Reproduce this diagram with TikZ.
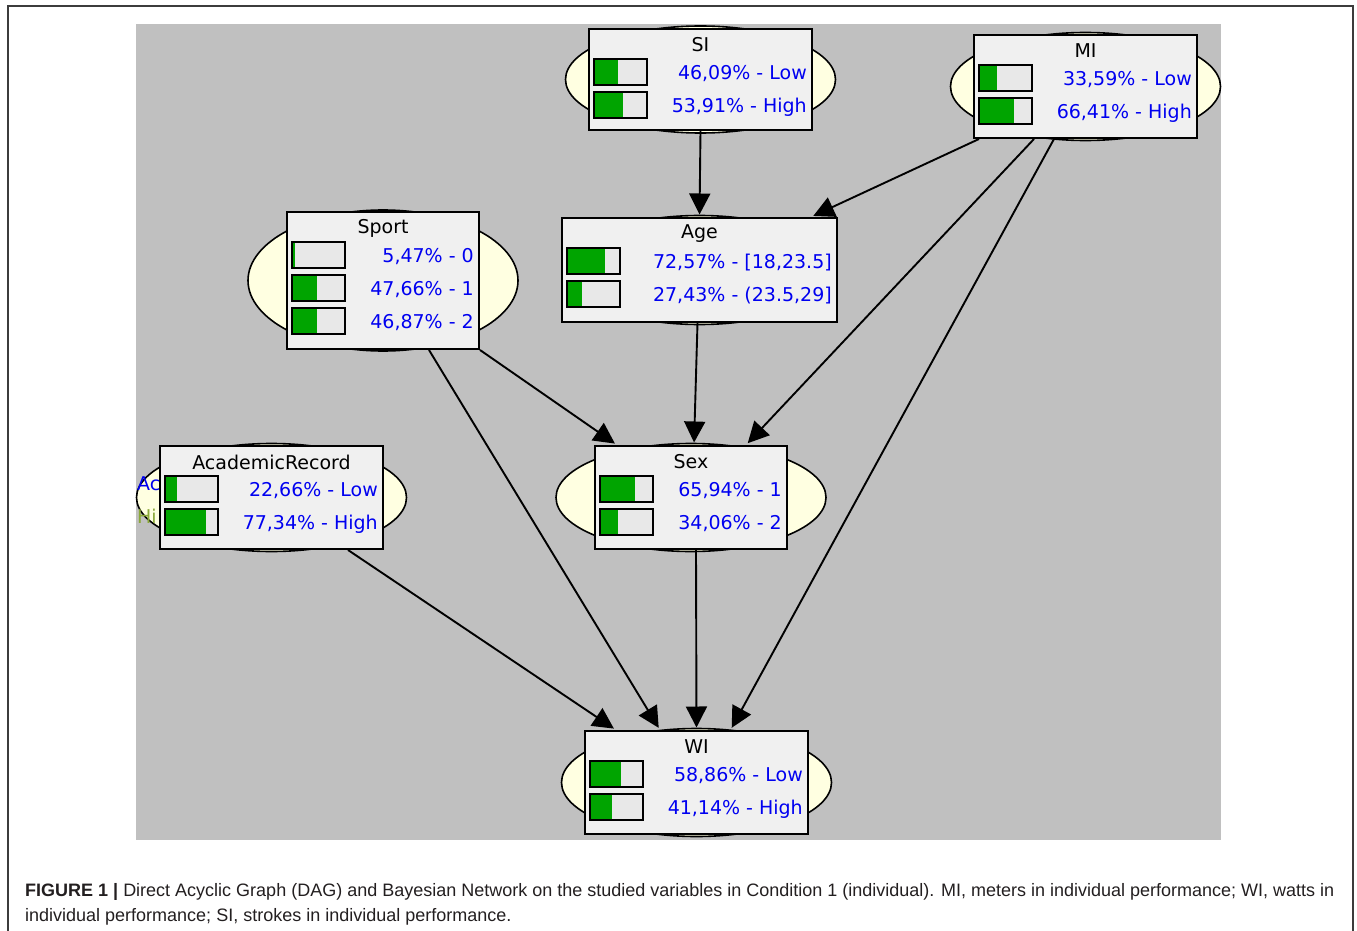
\documentclass[tikz,border=0pt]{standalone}
\usepackage{fontspec}
\setmainfont{DejaVu Sans}
\newfontfamily\capfont{Liberation Sans}
\usepackage{tikz}
\usetikzlibrary{positioning,calc,arrows.meta,shapes.geometric}
\definecolor{panelgray}{HTML}{C0C0C0}
\definecolor{boxgray}{HTML}{F0F0F0}
\definecolor{haloyellow}{HTML}{FFFFE1}
\definecolor{bargreen}{HTML}{00A400}
\definecolor{barempty}{HTML}{E8E8E8}
\definecolor{stateblue}{HTML}{0000F0}
\definecolor{stalegreen}{HTML}{8AA838}
\definecolor{framegray}{HTML}{3C3C3C}
\definecolor{captiongray}{HTML}{231F20}

% one state of a node: probability bar plus its label
\newcommand{\staterow}[4]{%
  \coordinate (#1-#2) at ($(#1.north west)+(6,{11+33*#2})$);
  \fill[barempty] ($(#1-#2)+(0,-13)$) rectangle ++(53,26);
  \fill[bargreen] ($(#1-#2)+(0,-13)$) rectangle ++({0.53*#3},26);
  \draw[line width=2pt] ($(#1-#2)+(0,-13)$) rectangle ++(53,26);
  \node[stateval] (#1-#2-val) at ($(#1.north east)+(-6,{13+33*#2})$) {#4};
}

\begin{document}
\begin{tikzpicture}[x=1pt,y=-1pt,
  halo/.style={ellipse, draw=black, line width=1.6pt, fill=haloyellow,
    minimum width=270, minimum height=#1, inner sep=0},
  cpt/.style={draw=black, line width=2pt, fill=boxgray, inner sep=0},
  title/.style={font=\fontsize{19}{20}\selectfont, text=black, inner sep=0},
  stateval/.style={anchor=east, font=\fontsize{19}{20}\selectfont,
    text=stateblue, inner sep=0},
  link/.style={line width=1.9pt, -{Triangle[length=21pt,width=21pt]},
    shorten >=2.5pt},
  caption/.style={font=\capfont\fontsize{18}{24}\selectfont, text=captiongray,
    inner sep=0, anchor=base west}]
  \useasboundingbox (0,0) rectangle (1357,931);
  \draw[framegray, line width=1.5pt] (8,931) -- (8,6) -- (1353,6) -- (1353,931);
  \fill[panelgray] (136,24) rectangle (1221,840);

  % SI
  \node[halo=107] (SIhalo) at (700.5,79.5) {};
  \node[cpt, minimum width=223, minimum height=101] (SI) at (SIhalo) {};
  \node[title] (SI-name) at ($(SI.north)+(0,17)$) {SI};
  \staterow{SI}{1}{46.09}{46,09\% - Low}
  \staterow{SI}{2}{53.91}{53,91\% - High}

  % MI
  \node[halo=108] (MIhalo) at (1085.5,86.5) {};
  \node[cpt, minimum width=223, minimum height=103] (MI) at (MIhalo) {};
  \node[title] (MI-name) at ($(MI.north)+(0,17)$) {MI};
  \staterow{MI}{1}{33.59}{33,59\% - Low}
  \staterow{MI}{2}{66.41}{66,41\% - High}

  % Sport
  \node[halo=141] (Sporthalo) at (383,280.5) {};
  \node[cpt, minimum width=192, minimum height=137] (Sport) at (Sporthalo) {};
  \node[title] (Sport-name) at ($(Sport.north)+(0,17)$) {Sport};
  \staterow{Sport}{1}{5.47}{5,47\% - 0}
  \staterow{Sport}{2}{47.66}{47,66\% - 1}
  \staterow{Sport}{3}{46.87}{46,87\% - 2}

  % Age
  \node[halo=109] (Agehalo) at (699.5,270) {};
  \node[cpt, minimum width=275, minimum height=104] (Age) at (Agehalo) {};
  \node[title] (Age-name) at ($(Age.north)+(0,17)$) {Age};
  \staterow{Age}{1}{72.57}{72,57\% - [18,23.5]}
  \staterow{Age}{2}{27.43}{27,43\% - (23.5,29]}

  % AcademicRecord
  \node[halo=108] (AcademicRecordhalo) at (271.5,497.5) {};
  \begin{scope}
    \clip (136,24) rectangle (1221,840);
    \node[title, text=stateblue, anchor=west] (oldA) at (137,484) {Ac};
    \node[title, text=stalegreen, anchor=west] (oldH) at (137,516) {Hi};
  \end{scope}
  \node[cpt, minimum width=223, minimum height=103] (AcademicRecord) at (AcademicRecordhalo) {};
  \node[title] (AcademicRecord-name) at ($(AcademicRecord.north)+(0,17)$) {AcademicRecord};
  \staterow{AcademicRecord}{1}{22.66}{22,66\% - Low}
  \staterow{AcademicRecord}{2}{77.34}{77,34\% - High}

  % Sex
  \node[halo=108] (Sexhalo) at (691,497.5) {};
  \node[cpt, minimum width=192, minimum height=103] (Sex) at (Sexhalo) {};
  \node[title] (Sex-name) at ($(Sex.north)+(0,17)$) {Sex};
  \staterow{Sex}{1}{65.94}{65,94\% - 1}
  \staterow{Sex}{2}{34.06}{34,06\% - 2}

  % WI
  \node[halo=108] (WIhalo) at (696.5,782.5) {};
  \node[cpt, minimum width=223, minimum height=103] (WI) at (WIhalo) {};
  \node[title] (WI-name) at ($(WI.north)+(0,17)$) {WI};
  \staterow{WI}{1}{58.86}{58,86\% - Low}
  \staterow{WI}{2}{41.14}{41,14\% - High}

  % arcs
  \draw[link] (SI.south) -- (Age.north);
  \draw[link] ([xshift=6pt]MI.south west) -- ([xshift=-27pt]Age.north east);
  \draw[link] ([xshift=61pt]MI.south west) -- ([xshift=-42pt]Sex.north east);
  \draw[link] ([xshift=81pt]MI.south west) -- ([xshift=34pt]WI.north);
  \draw[link] ([xshift=-2pt]Age.south) -- ([xshift=3pt]Sex.north);
  \draw[link] (Sport.south east) -- ([xshift=23pt]Sex.north west);
  \draw[link] ([xshift=-51pt]Sport.south east) -- ([xshift=76pt]WI.north west);
  \draw[link] ([xshift=5pt]Sex.south) -- (WI.north);
  \draw[link] ([xshift=-36pt]AcademicRecord.south east) -- ([xshift=32pt]WI.north west);

  \node[caption] (cap1) at (25,896) {\textbf{FIGURE 1 |} Direct Acyclic Graph (DAG) and Bayesian Network on the studied variables in Condition 1 (individual). MI, meters in individual performance; WI, watts in};
  \node[caption] (cap2) at ($(cap1.base west)+(0,25)$) {individual performance; SI, strokes in individual performance.};
\end{tikzpicture}
\end{document}
